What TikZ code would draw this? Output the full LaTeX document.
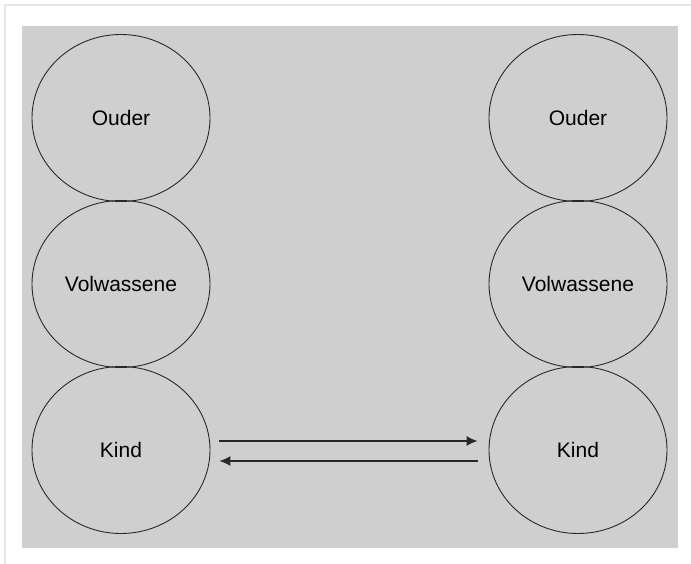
\documentclass[tikz,border=0pt]{standalone}
\usepackage{fontspec}
\setmainfont{Liberation Sans}
\usetikzlibrary{positioning, shapes.geometric, arrows.meta}

\definecolor{bggray}{RGB}{207,207,207}
\definecolor{framegray}{RGB}{230,230,230}
\definecolor{linegray}{RGB}{40,40,40}

\begin{document}
\begin{tikzpicture}[
    x=1pt, y=-1pt,
    rol/.style={ellipse, draw=linegray, line width=0.9pt, minimum width=178pt,
                minimum height=167pt, inner sep=0pt,
                font=\fontsize{21}{25}\selectfont},
    pijl/.style={draw=linegray, line width=1.3pt, -{Latex[length=11pt,width=10pt]}}
]
  \useasboundingbox (0,0) rectangle (691,564);

  % achtergrond
  \draw[framegray, line width=2pt] (5,564) -- (5,5) -- (691,5);
  \fill[bggray] (22,26) rectangle (678,548);

  % linker kolom
  \node[rol] (ouderL) at (121,118) {Ouder};
  \node[rol] (volwL) at (121,284) {Volwassene};
  \node[rol] (kindL) at (121,450) {Kind};

  % rechter kolom
  \node[rol] (ouderR) at (578,118) {Ouder};
  \node[rol] (volwR) at (578,284) {Volwassene};
  \node[rol] (kindR) at (578,450) {Kind};

  % transacties tussen de twee Kind-toestanden
  \draw[pijl, shorten <=9pt, shorten >=11pt] ([yshift=9pt]kindL.east) -- ([yshift=9pt]kindR.west);
  \draw[pijl, shorten <=11pt, shorten >=9pt] ([yshift=-11pt]kindR.west) -- ([yshift=-11pt]kindL.east);
\end{tikzpicture}
\end{document}
